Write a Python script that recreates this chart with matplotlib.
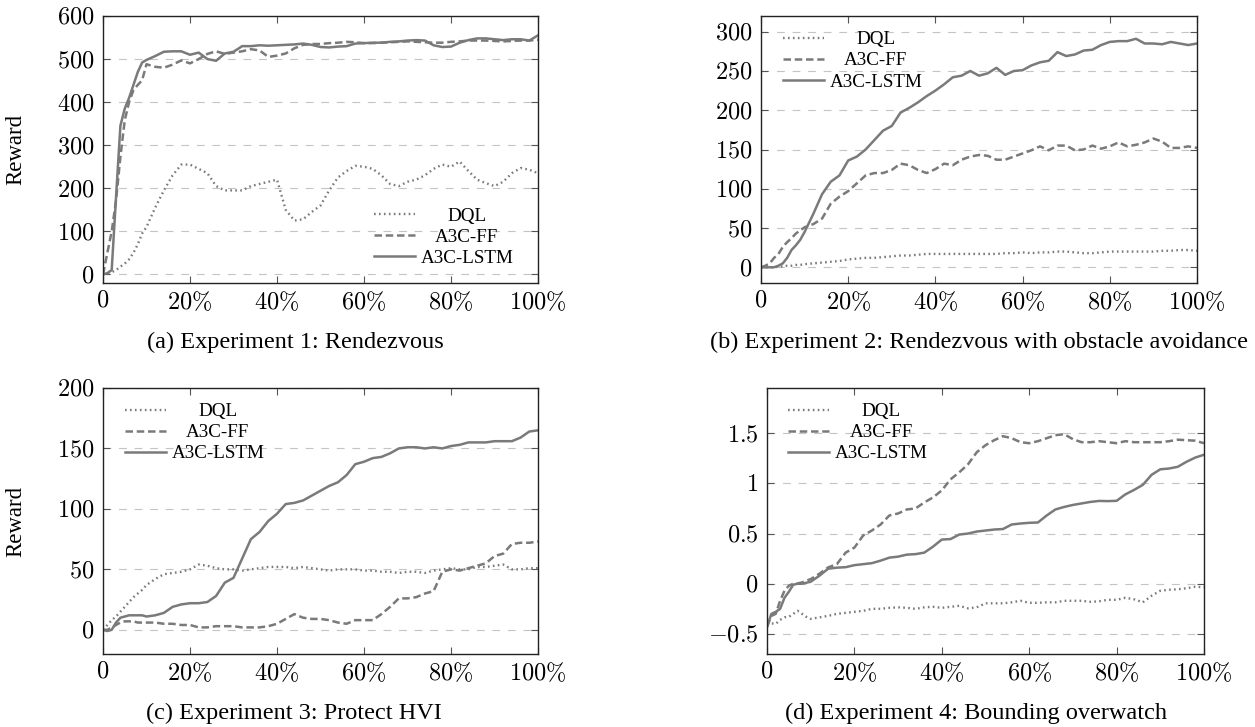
import matplotlib
matplotlib.use("Agg")
import matplotlib.pyplot as plt

plt.rcParams['font.family'] = ['Liberation Serif', 'DejaVu Serif']
plt.rcParams['mathtext.fontset'] = 'cm'

# --- DATA (x = training progress in %) ---
progress = [0, 1, 2, 3, 4, 5, 6, 7, 8, 9, 10, 12, 14, 16, 18, 20, 22, 24, 26, 28,
            30, 32, 34, 36, 38, 40, 42, 44, 46, 48, 50, 52, 54, 56, 58, 60, 62, 64,
            66, 68, 70, 72, 74, 76, 78, 80, 82, 84, 86, 88, 90, 92, 94, 96, 98, 100]

series_names = ['DQL', 'A3C-FF', 'A3C-LSTM']

# Experiment 1: Rendezvous
exp1_dql = [0, 2, 5, 10, 18, 25, 35, 50, 70, 95, 110, 155, 195, 230, 255, 255, 245, 235, 205, 195,
            195, 195, 205, 210, 215, 220, 150, 125, 128, 145, 160, 195, 225, 240, 252, 250, 245, 230,
            210, 205, 215, 220, 230, 245, 255, 250, 262, 240, 220, 212, 205, 215, 235, 247, 243, 235]
exp1_ff = [0, 50, 100, 172, 273, 358, 400, 428, 440, 451, 488, 482, 480, 487, 497, 490, 500, 512, 518, 512,
           515, 518, 523, 520, 505, 508, 513, 525, 533, 535, 535, 537, 538, 540, 539, 537, 537, 538,
           539, 540, 541, 540, 539, 538, 538, 540, 541, 543, 543, 543, 542, 541, 542, 543, 543, 545]
exp1_lstm = [0, 3, 10, 180, 345, 385, 410, 440, 470, 492, 498, 507, 517, 518, 518, 510, 515, 500, 496, 513,
             517, 530, 530, 532, 531, 532, 533, 534, 536, 533, 528, 527, 529, 530, 536, 537, 538, 538,
             540, 541, 543, 544, 543, 532, 528, 529, 538, 544, 548, 548, 546, 544, 546, 546, 543, 555]

# Experiment 2: Rendezvous with obstacle avoidance
exp2_dql = [0, 0, 0, 0, 1, 1, 2, 2, 3, 3, 4, 5, 6, 7, 8, 10, 11, 12, 12, 13,
            14, 15, 15, 16, 17, 17, 17, 17, 17, 17, 17, 17, 17, 18, 18, 19, 18, 19,
            19, 20, 20, 19, 18, 18, 19, 20, 20, 20, 20, 20, 20, 21, 21, 22, 22, 21]
exp2_ff = [0, 2, 5, 12, 17, 26, 32, 37, 43, 47, 51, 55, 62, 81, 90, 97, 107, 117, 120, 120,
           124, 132, 130, 124, 120, 125, 132, 130, 137, 141, 143, 142, 137, 137, 141, 145, 149, 154,
           149, 155, 155, 149, 150, 155, 151, 154, 159, 154, 156, 159, 164, 160, 152, 152, 154, 152]
exp2_lstm = [0, 0, 0, 0, 2, 5, 12, 22, 28, 35, 45, 68, 93, 109, 117, 136, 141, 150, 162, 174,
             180, 197, 203, 210, 218, 225, 233, 242, 244, 250, 244, 247, 254, 245, 250, 251, 257, 261,
             263, 274, 269, 271, 276, 277, 283, 287, 288, 288, 291, 285, 285, 284, 287, 285, 283, 285]

# Experiment 3: Protect HVI
exp3_dql = [0, 4, 8, 11, 15, 19, 23, 27, 30, 33, 37, 42, 46, 47, 48, 50, 54, 53, 51, 50,
            50, 49, 50, 51, 52, 52, 52, 51, 52, 51, 50, 49, 50, 50, 50, 49, 49, 48,
            48, 47, 48, 48, 47, 49, 50, 51, 50, 50, 52, 52, 53, 54, 50, 50, 51, 51]
exp3_ff = [0, 0, 2, 4, 6, 7, 7, 7, 6, 6, 6, 6, 5, 5, 4, 4, 2, 2, 3, 3,
           3, 2, 2, 2, 3, 5, 9, 13, 10, 9, 9, 8, 6, 5, 8, 8, 8, 13,
           19, 26, 26, 27, 30, 32, 48, 50, 49, 51, 53, 55, 61, 63, 71, 72, 72, 73]
exp3_lstm = [0, -1, 0, 6, 10, 11, 12, 12, 12, 12, 11, 12, 14, 19, 21, 22, 22, 23, 28, 39,
             43, 59, 75, 81, 90, 96, 104, 105, 107, 111, 115, 119, 122, 128, 137, 139, 142, 143,
             146, 150, 151, 151, 150, 151, 150, 152, 153, 155, 155, 155, 156, 156, 156, 159, 164, 165]

# Experiment 4: Bounding overwatch
exp4_dql = [-0.385, -0.395, -0.40, -0.36, -0.335, -0.33, -0.30, -0.27, -0.30, -0.33, -0.35, -0.335,
            -0.32, -0.30, -0.29, -0.28, -0.27, -0.25, -0.25, -0.24, -0.235, -0.24, -0.25, -0.235,
            -0.23, -0.24, -0.23, -0.22, -0.245, -0.235, -0.195, -0.195, -0.195, -0.185, -0.17, -0.19,
            -0.19, -0.185, -0.185, -0.17, -0.17, -0.17, -0.18, -0.175, -0.16, -0.16, -0.14, -0.155,
            -0.185, -0.12, -0.07, -0.06, -0.055, -0.045, -0.03, -0.035]
exp4_ff = [-0.43, -0.32, -0.30, -0.17, -0.07, -0.02, 0.0, 0.003, 0.013, 0.03, 0.046, 0.10,
           0.163, 0.196, 0.31, 0.36, 0.48, 0.53, 0.59, 0.68, 0.70, 0.74, 0.75, 0.81,
           0.86, 0.93, 1.04, 1.11, 1.19, 1.31, 1.38, 1.43, 1.47, 1.45, 1.41, 1.40,
           1.42, 1.45, 1.48, 1.49, 1.44, 1.41, 1.41, 1.42, 1.41, 1.40, 1.42, 1.41,
           1.41, 1.41, 1.41, 1.42, 1.435, 1.43, 1.425, 1.40]
exp4_lstm = [-0.43, -0.30, -0.28, -0.25, -0.14, -0.08, -0.01, 0.0, 0.0, 0.01, 0.02, 0.08,
             0.15, 0.16, 0.165, 0.185, 0.195, 0.205, 0.23, 0.26, 0.27, 0.29, 0.295, 0.31,
             0.37, 0.44, 0.445, 0.49, 0.50, 0.52, 0.53, 0.54, 0.545, 0.59, 0.60, 0.607,
             0.61, 0.68, 0.74, 0.765, 0.785, 0.80, 0.815, 0.825, 0.823, 0.826, 0.89, 0.935,
             0.985, 1.085, 1.14, 1.148, 1.165, 1.215, 1.257, 1.285]

x_ticks = [0, 20, 40, 60, 80, 100]
x_ticklabels = ['0', '20%', '40%', '60%', '80%', '100%']

captions = ['(a) Experiment 1: Rendezvous',
            '(b) Experiment 2: Rendezvous with obstacle avoidance',
            '(c) Experiment 3: Protect HVI',
            '(d) Experiment 4: Bounding overwatch']

# --- STYLE ---
line_color = '#7a7a7a'
styles = [dict(linestyle=(0, (0.7, 1.4)), linewidth=1.7),
          dict(linestyle=(0, (3.0, 1.5)), linewidth=1.8),
          dict(linestyle='-', linewidth=1.8)]

W, H = 1255, 727
fig = plt.figure(figsize=(W / 100, H / 100), dpi=100)

# panel boxes in pixels: left, top, right, bottom
panels = [
    dict(box=(103, 16, 538, 283), data=[exp1_dql, exp1_ff, exp1_lstm],
         ylim=(-20, 600), yticks=[0, 100, 200, 300, 400, 500, 600],
         ylabels=['0', '100', '200', '300', '400', '500', '600'],
         legend=dict(loc='lower right', bbox_to_anchor=(0.943, 0.06)), reward=True,
         caption=(295, 342)),
    dict(box=(761, 16, 1197, 283), data=[exp2_dql, exp2_ff, exp2_lstm],
         ylim=(-20, 320), yticks=[0, 50, 100, 150, 200, 250, 300],
         ylabels=['0', '50', '100', '150', '200', '250', '300'],
         legend=dict(loc='upper left', bbox_to_anchor=(0.05, 0.944)), reward=False,
         caption=(979, 342)),
    dict(box=(103, 388, 538, 654), data=[exp3_dql, exp3_ff, exp3_lstm],
         ylim=(-20, 200), yticks=[0, 50, 100, 150, 200],
         ylabels=['0', '50', '100', '150', '200'],
         legend=dict(loc='upper left', bbox_to_anchor=(0.05, 0.944)), reward=True,
         caption=(294, 713)),
    dict(box=(767, 388, 1204, 654), data=[exp4_dql, exp4_ff, exp4_lstm],
         ylim=(-0.7, 1.95), yticks=[-0.5, 0, 0.5, 1, 1.5],
         ylabels=['-0.5', '0', '0.5', '1', '1.5'],
         legend=dict(loc='upper left', bbox_to_anchor=(0.048, 0.944)), reward=False,
         caption=(976, 713)),
]

legends = []
for i, p in enumerate(panels):
    l, t, r, b = p['box']
    ax = fig.add_axes([l / W, 1 - b / H, (r - l) / W, (b - t) / H])

    for name, ys, st in zip(series_names, p['data'], styles):
        ax.plot(progress, ys, color=line_color, label=name, **st)

    ax.set_xlim(0, 100)
    ax.set_ylim(*p['ylim'])
    ax.set_xticks(x_ticks, ['$' + s.replace('%', r'\%') + '$' for s in x_ticklabels])
    ax.set_yticks(p['yticks'], ['$' + s + '$' for s in p['ylabels']])
    ax.tick_params(direction='in', length=5, width=0.8, color='#555555',
                   top=True, right=True, labelsize=17.5)
    ax.tick_params(axis='x', pad=5.5)
    ax.tick_params(axis='y', pad=6)
    ax.yaxis.grid(True, linestyle=(0, (7, 7)), color='#c4c4c4', linewidth=0.8)
    ax.set_axisbelow(True)
    for sp in ax.spines.values():
        sp.set_linewidth(1.0)
        sp.set_color('#222222')

    if p['reward']:
        ax.set_ylabel('Reward', fontsize=16.5)
        ax.yaxis.set_label_coords(-0.177, 0.5)

    leg = ax.legend(frameon=False, fontsize=13.7, handlelength=2.15, handletextpad=0.3,
                    labelspacing=0.2, borderpad=0, borderaxespad=0, **p['legend'])
    legends.append(leg)

    cx, cy = p['caption']
    fig.text(cx / W, 1 - cy / H, captions[i], ha='center', va='center', fontsize=17.5)

# centre the legend labels in their column, like the original
fig.canvas.draw()
renderer = fig.canvas.get_renderer()
for leg in legends:
    texts = leg.get_texts()
    widths = [t.get_window_extent(renderer).width for t in texts]
    wmax = max(widths)
    for t, w in zip(texts, widths):
        t.set_x((wmax - w) / 2)

fig.savefig('out.png', dpi=100)
